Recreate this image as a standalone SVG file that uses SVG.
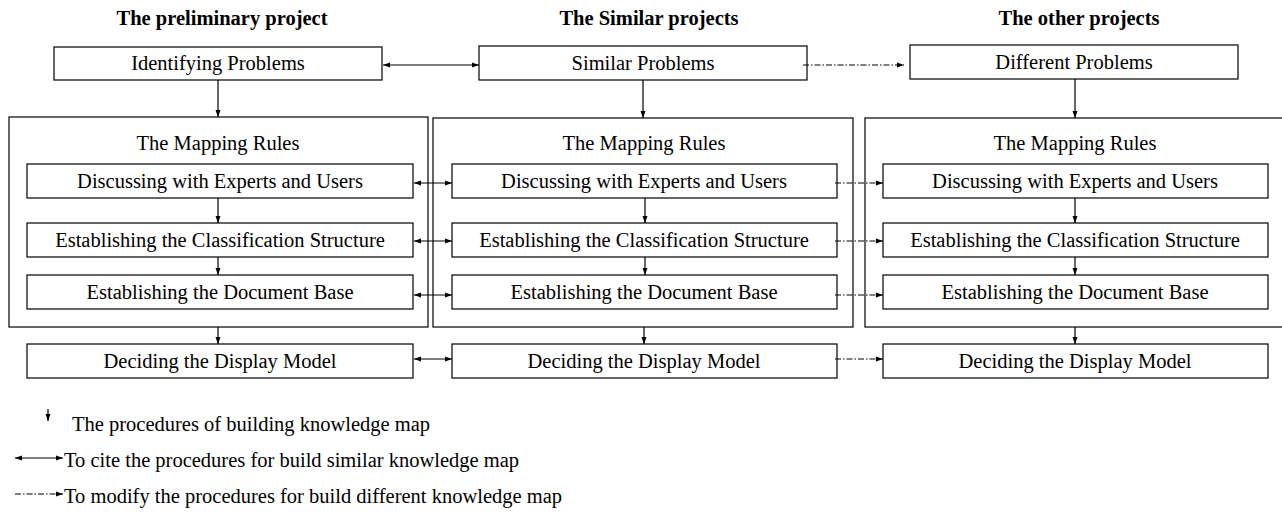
<svg xmlns="http://www.w3.org/2000/svg" width="1282" height="521" viewBox="0 0 1282 521">
<style>
rect{fill:#fff;stroke:#000;stroke-width:1.2}
.t{font-family:"Liberation Serif","Times New Roman",serif;font-size:20.5px;fill:#000;text-anchor:middle}
.h{font-weight:bold}
.l{text-anchor:start}
.c{stroke:#000;stroke-width:1.2;fill:none}
.d{stroke-dasharray:6,2,1.5,2}
</style>
<defs>
<marker id="ah" markerUnits="userSpaceOnUse" markerWidth="8" markerHeight="6" refX="7" refY="3" orient="auto-start-reverse">
<path d="M0,0.5 L7,3 L0,5.5 Z" fill="#000"/>
</marker>
</defs>
<g id="titles">
<text class="t h" x="222" y="25">The preliminary project</text>
<text class="t h" x="649" y="25">The Similar projects</text>
<text class="t h" x="1079" y="25">The other projects</text>
</g>
<g id="col1">
<g id="identifying"><rect x="54" y="47" width="328" height="33"/><text class="t" x="218" y="70">Identifying Problems</text></g>
<g id="rules1"><rect x="9" y="117" width="419" height="210"/><text class="t" x="218" y="150">The Mapping Rules</text></g>
<g id="discuss1"><rect x="27" y="164" width="386" height="34"/><text class="t" x="220" y="188">Discussing with Experts and Users</text></g>
<g id="class1"><rect x="27" y="223" width="386" height="34"/><text class="t" x="220" y="247">Establishing the Classification Structure</text></g>
<g id="doc1"><rect x="27" y="275" width="386" height="34"/><text class="t" x="220" y="299">Establishing the Document Base</text></g>
<g id="display1"><rect x="27" y="344" width="386" height="34"/><text class="t" x="220" y="368">Deciding the Display Model</text></g>
</g>
<g id="col2">
<g id="similar"><rect x="479" y="46" width="328" height="34"/><text class="t" x="643" y="70">Similar Problems</text></g>
<g id="rules2"><rect x="433" y="118" width="420" height="209"/><text class="t" x="644" y="150">The Mapping Rules</text></g>
<g id="discuss2"><rect x="452" y="164" width="385" height="34"/><text class="t" x="644" y="188">Discussing with Experts and Users</text></g>
<g id="class2"><rect x="452" y="223" width="385" height="34"/><text class="t" x="644" y="247">Establishing the Classification Structure</text></g>
<g id="doc2"><rect x="452" y="275" width="385" height="34"/><text class="t" x="644" y="299">Establishing the Document Base</text></g>
<g id="display2"><rect x="452" y="344" width="385" height="34"/><text class="t" x="644" y="368">Deciding the Display Model</text></g>
</g>
<g id="col3">
<g id="different"><rect x="910" y="45" width="328" height="34"/><text class="t" x="1074" y="69">Different Problems</text></g>
<g id="rules3"><rect x="865" y="118" width="420" height="209"/><text class="t" x="1075" y="150">The Mapping Rules</text></g>
<g id="discuss3"><rect x="883" y="164" width="385" height="34"/><text class="t" x="1075" y="188">Discussing with Experts and Users</text></g>
<g id="class3"><rect x="883" y="223" width="385" height="34"/><text class="t" x="1075" y="247">Establishing the Classification Structure</text></g>
<g id="doc3"><rect x="883" y="275" width="385" height="34"/><text class="t" x="1075" y="299">Establishing the Document Base</text></g>
<g id="display3"><rect x="883" y="344" width="385" height="34"/><text class="t" x="1075" y="368">Deciding the Display Model</text></g>
</g>
<g id="connectors">
<line class="c" x1="218" y1="80" x2="218" y2="117" marker-end="url(#ah)"/>
<line class="c" x1="218" y1="198" x2="218" y2="223" marker-end="url(#ah)"/>
<line class="c" x1="218" y1="257" x2="218" y2="275" marker-end="url(#ah)"/>
<line class="c" x1="218" y1="327" x2="218" y2="344" marker-end="url(#ah)"/>
<line class="c" x1="643" y1="80" x2="643" y2="118" marker-end="url(#ah)"/>
<line class="c" x1="645" y1="198" x2="645" y2="223" marker-end="url(#ah)"/>
<line class="c" x1="645" y1="257" x2="645" y2="275" marker-end="url(#ah)"/>
<line class="c" x1="644" y1="327" x2="644" y2="344" marker-end="url(#ah)"/>
<line class="c" x1="1075" y1="79" x2="1075" y2="118" marker-end="url(#ah)"/>
<line class="c" x1="1075" y1="198" x2="1075" y2="223" marker-end="url(#ah)"/>
<line class="c" x1="1075" y1="257" x2="1075" y2="275" marker-end="url(#ah)"/>
<line class="c" x1="1075" y1="327" x2="1075" y2="344" marker-end="url(#ah)"/>
<line class="c" x1="383" y1="65" x2="479" y2="65" marker-start="url(#ah)" marker-end="url(#ah)"/>
<line class="c" x1="414" y1="183" x2="452" y2="183" marker-start="url(#ah)" marker-end="url(#ah)"/>
<line class="c" x1="414" y1="241" x2="452" y2="241" marker-start="url(#ah)" marker-end="url(#ah)"/>
<line class="c" x1="414" y1="295" x2="452" y2="295" marker-start="url(#ah)" marker-end="url(#ah)"/>
<line class="c" x1="414" y1="359" x2="452" y2="359" marker-start="url(#ah)" marker-end="url(#ah)"/>
<line class="c d" x1="803" y1="65" x2="904" y2="65" marker-end="url(#ah)"/>
<line class="c d" x1="835" y1="183" x2="883" y2="183" marker-end="url(#ah)"/>
<line class="c d" x1="835" y1="241" x2="883" y2="241" marker-end="url(#ah)"/>
<line class="c d" x1="835" y1="295" x2="883" y2="295" marker-end="url(#ah)"/>
<line class="c d" x1="835" y1="359" x2="883" y2="359" marker-end="url(#ah)"/>
</g>
<g id="legend">
<line class="c" x1="48" y1="409" x2="48" y2="421" marker-end="url(#ah)"/>
<text class="t l" x="72" y="431">The procedures of building knowledge map</text>
<line class="c" x1="15" y1="458" x2="63" y2="458" marker-start="url(#ah)" marker-end="url(#ah)"/>
<text class="t l" x="64" y="467">To cite the procedures for build similar knowledge map</text>
<line class="c d" x1="15" y1="494" x2="63" y2="494" marker-end="url(#ah)"/>
<text class="t l" x="64" y="503">To modify the procedures for build different knowledge map</text>
</g>
</svg>
